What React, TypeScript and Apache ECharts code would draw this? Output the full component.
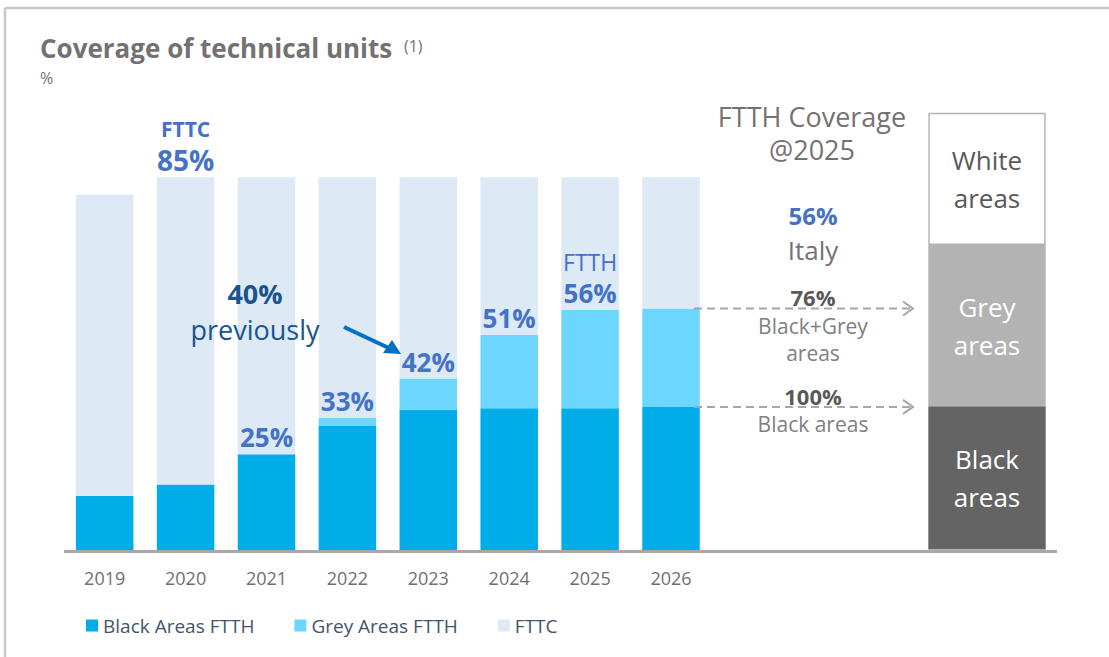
import React, { useEffect, useRef } from "react";
import * as echarts from "echarts";

const years = ["2019", "2020", "2021", "2022", "2023", "2024", "2025", "2026"];
const blackFtth = [14.5, 17.6, 25.7, 33.3, 37.6, 38.0, 38.0, 38.4];
const greyFtth = [0, 0, 0, 2.2, 8.4, 19.7, 26.4, 26.4];
const fttc = [80.8, 82.4, 74.3, 64.5, 54.0, 42.3, 35.6, 35.2];
const ftthLabels = ["", "", "25%", "33%", "42%", "51%", "56%", ""];
const fttcLabels = ["", "85%", "", "", "", "", "", ""];

const areaNames = ["Black\nareas", "Grey\nareas", "White\nareas"];
const areaShares = [32.8, 36.9, 30.3];

const FONT = "'Open Sans', sans-serif";
const BLUE = "#4472C4";
const C_BLACK = "#00ADE9";
const C_GREY = "#6DD6FE";
const C_FTTC = "#DDE9F5";
const GREY_TXT = "#767171";

export default function App() {
  const ref = useRef<HTMLDivElement>(null);

  useEffect(() => {
    document.body.style.margin = "0";
    const chart = echarts.init(ref.current!, undefined, { renderer: "svg" });

    const t = (text: string, x: number, y: number, font: string, fill: string, align = "center", lh?: number) => ({
      type: "text",
      z: 100,
      x,
      y,
      style: { text, font: `${font} ${FONT}`, fill, textAlign: align, textVerticalAlign: "middle", ...(lh ? { lineHeight: lh } : {}) },
    });

    const staticGraphic: any[] = [
      { type: "line", z: 100, shape: { x1: 5, y1: 8, x2: 1109, y2: 8 }, style: { stroke: "#C8C8C8", lineWidth: 2.5 } },
      { type: "line", z: 100, shape: { x1: 5, y1: 8, x2: 5, y2: 657 }, style: { stroke: "#C8C8C8", lineWidth: 2.5 } },
      { type: "line", z: 100, shape: { x1: 64, y1: 551.5, x2: 1057, y2: 551.5 }, style: { stroke: "#ABA7A7", lineWidth: 3 } },
      t("Coverage of technical units", 40, 48, "bold 26px", GREY_TXT, "left"),
      t("(1)", 404, 46, "16px", GREY_TXT, "left"),
      t("%", 40, 78, "16px", GREY_TXT, "left"),
      t("40%", 255, 293, "bold 27px", "#1A548E"),
      t("previously", 255, 329, "27px", "#1A548E"),
      { type: "line", z: 100, shape: { x1: 344, y1: 327, x2: 392, y2: 349.5 }, style: { stroke: "#0070C0", lineWidth: 4 } },
      { type: "polygon", z: 100, shape: { points: [[401, 354], [383, 353], [392, 340]] }, style: { fill: "#0070C0" } },
      t("FTTH Coverage", 812, 116, "27px", GREY_TXT),
      t("@2025", 812, 149.5, "27px", GREY_TXT),
      t("56%", 813, 215, "bold 24px", BLUE),
      t("Italy", 813, 250, "26px", GREY_TXT),
      t("76%", 813, 297, "bold 22px", "#595959"),
      t("Black+Grey\nareas", 813, 339.5, "21px", "#808080", "center", 27),
      t("100%", 813, 396, "bold 22px", "#595959"),
      t("Black areas", 813, 424, "21px", "#808080"),
    ];

    const option: any = {
      animation: false,
      textStyle: { fontFamily: FONT },
      grid: [
        { left: 64.25, width: 647.2, top: 177.3, bottom: 107, containLabel: false },
        { left: 928.3, width: 117.4, top: 112.7, bottom: 107.5, containLabel: false },
      ],
      xAxis: [
        {
          type: "category",
          gridIndex: 0,
          data: years,
          axisLine: { show: false },
          axisTick: { show: false },
          axisLabel: { color: "#6F6F6F", fontSize: 18, margin: 19, fontFamily: FONT },
        },
        { type: "category", gridIndex: 1, data: [""], show: false },
      ],
      yAxis: [
        { type: "value", gridIndex: 0, min: 0, max: 100, show: false },
        { type: "value", gridIndex: 1, min: 0, max: 100, show: false },
      ],
      legend: {
        data: ["Black Areas FTTH", "Grey Areas FTTH", "FTTC"],
        left: 81,
        top: 611,
        icon: "rect",
        itemWidth: 12,
        itemHeight: 12,
        itemGap: 40,
        textStyle: { color: "#44546A", fontSize: 19, fontFamily: FONT },
      },
      series: [
        {
          name: "Black Areas FTTH",
          type: "bar",
          stack: "a",
          barWidth: 57.5,
          itemStyle: { color: C_BLACK },
          data: blackFtth,
        },
        {
          name: "Grey Areas FTTH",
          type: "bar",
          stack: "a",
          barWidth: 57.5,
          itemStyle: { color: C_GREY },
          data: greyFtth.map((v, i) => ({
            value: v,
            label: {
              show: ftthLabels[i] !== "",
              position: "top",
              distance: 2,
              formatter: i === 6 ? `{a|FTTH}\n{b|${ftthLabels[i]}}` : `{b|${ftthLabels[i]}}`,
              rich: {
                a: { fontSize: 23, color: BLUE, fontFamily: FONT, lineHeight: 32 },
                b: { fontSize: 26, fontWeight: "bold", color: BLUE, fontFamily: FONT, lineHeight: 30 },
              },
            },
          })),
        },
        {
          name: "FTTC",
          type: "bar",
          stack: "a",
          barWidth: 57.5,
          itemStyle: { color: C_FTTC },
          data: fttc.map((v, i) => ({
            value: v,
            label: {
              show: fttcLabels[i] !== "",
              position: "top",
              distance: 1,
              formatter: `{a|FTTC}\n{b|${fttcLabels[i]}}`,
              rich: {
                a: { fontSize: 21, fontWeight: "bold", color: BLUE, fontFamily: FONT, lineHeight: 30 },
                b: { fontSize: 28, fontWeight: "bold", color: BLUE, fontFamily: FONT, lineHeight: 32 },
              },
            },
          })),
        },
        ...areaNames.map((n, i) => ({
          name: n,
          type: "bar",
          stack: "r",
          xAxisIndex: 1,
          yAxisIndex: 1,
          barWidth: "100%",
          itemStyle:
            i === 2
              ? { color: "#FFFFFF", borderColor: "#B4B4B4", borderWidth: 1.5 }
              : { color: i === 0 ? "#646464" : "#B3B3B3" },
          label: {
            show: true,
            position: "inside",
            formatter: n,
            color: i === 2 ? "#595959" : "#FFFFFF",
            fontSize: 26,
            lineHeight: 38,
            fontFamily: FONT,
          },
          data: [areaShares[i]],
        })),
      ],
      graphic: staticGraphic,
    };

    chart.setOption(option);

    const last = years.length - 1;
    const yBlack = chart.convertToPixel({ gridIndex: 0 }, [last, blackFtth[last]])[1];
    const yGrey = chart.convertToPixel({ gridIndex: 0 }, [last, blackFtth[last] + greyFtth[last]])[1];
    const dash = (y: number) => [
      { type: "line", z: 100, shape: { x1: 694, y1: y, x2: 912, y2: y }, style: { stroke: "#A6A6A6", lineWidth: 2, lineDash: [8, 5] } },
      { type: "polyline", z: 100, shape: { points: [[903, y - 7], [913, y], [903, y + 7]] }, style: { stroke: "#A6A6A6", lineWidth: 2, fill: "none" } },
    ];
    chart.setOption({ graphic: [...staticGraphic, ...dash(yGrey), ...dash(yBlack)] });

    return () => chart.dispose();
  }, []);

  return <div ref={ref} style={{ width: 1109, height: 657 }} />;
}
